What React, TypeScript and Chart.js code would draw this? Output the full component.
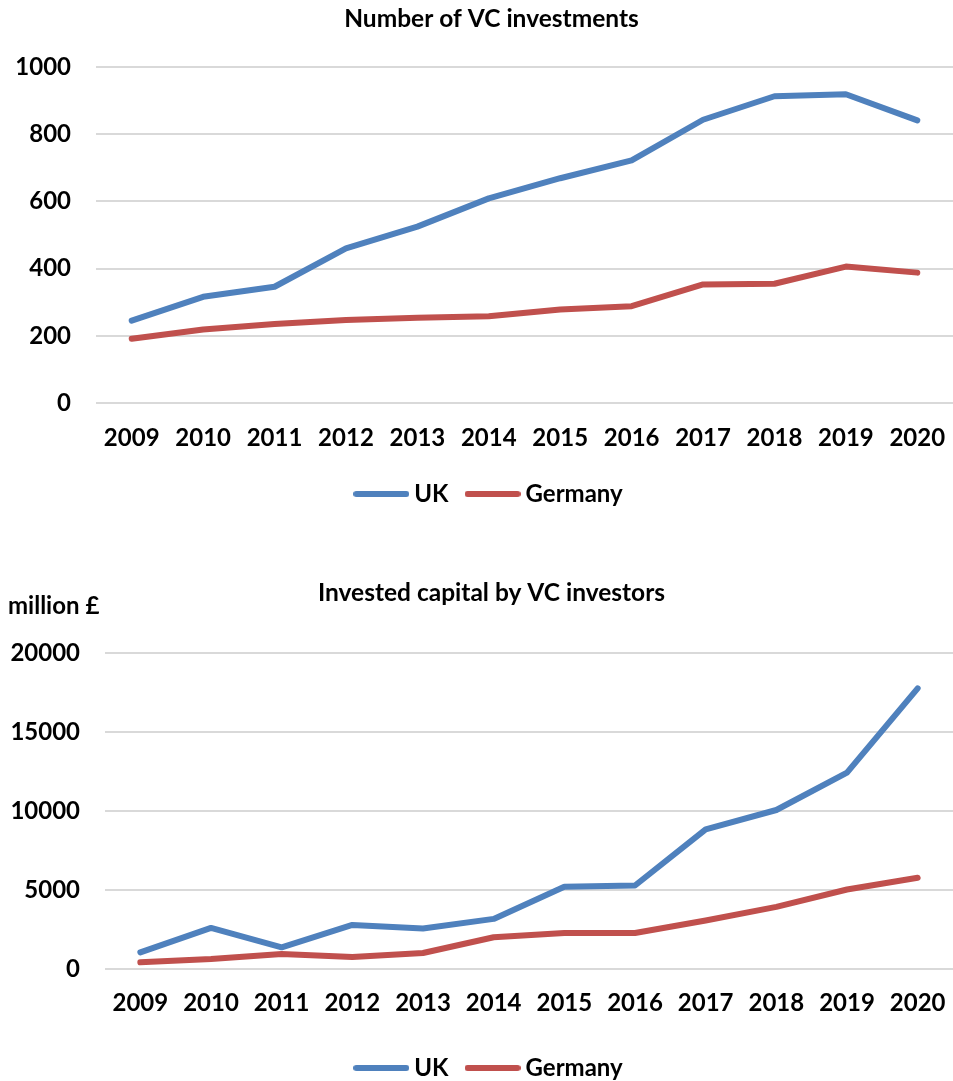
import React, { useEffect, useRef } from "react";
import { Chart, registerables } from "chart.js";

Chart.register(...registerables);

const years = ["2009", "2010", "2011", "2012", "2013", "2014", "2015", "2016", "2017", "2018", "2019", "2020"];
const ukCount = [245, 316, 346, 460, 525, 609, 669, 722, 843, 913, 919, 841];
const deCount = [191, 219, 235, 247, 254, 258, 278, 288, 353, 355, 406, 388];
const ukCapital = [1057, 2600, 1374, 2790, 2558, 3171, 5201, 5285, 8837, 10063, 12431, 17759];
const deCapital = [423, 634, 951, 761, 1015, 2008, 2283, 2283, 3066, 3932, 5032, 5772];
const seriesNames = ["UK", "Germany"];
const countTicks = { min: 0, max: 1000, step: 200 };
const capitalTicks = { min: 0, max: 20000, step: 5000 };
const title1 = "Number of VC investments";
const title2 = "Invested capital by VC investors";
const unitLabel = "million £";

const BLUE = "#4F81BD";
const RED = "#C0504D";
const FONT = "Lato";
const CANVAS_W = 983;

function legendImage(color: string) {
  const c = document.createElement("canvas");
  c.width = 56;
  c.height = 8;
  const ctx = c.getContext("2d")!;
  ctx.strokeStyle = color;
  ctx.lineWidth = 6;
  ctx.lineCap = "round";
  ctx.beginPath();
  ctx.moveTo(3, 4);
  ctx.lineTo(53, 4);
  ctx.stroke();
  return c;
}

type Cfg = {
  uk: number[];
  de: number[];
  ticks: { min: number; max: number; step: number };
  title: string;
  titlePad: { top: number; bottom: number };
  yWidth: number;
  xHeight: number;
  xPad: number;
  padBottom: number;
  unit?: string;
};

function makeChart(canvas: HTMLCanvasElement, cfg: Cfg) {
  const ds = (label: string, data: number[], color: string) => ({
    label,
    data,
    yAxisID: "y",
    borderColor: color,
    backgroundColor: color,
    borderWidth: 6,
    borderCapStyle: "round" as const,
    borderJoinStyle: "round" as const,
    pointRadius: 0,
    pointHoverRadius: 0,
    pointStyle: legendImage(color),
    tension: 0,
    fill: false,
  });
  const unitPlugin = {
    id: "unitLabel",
    afterDraw(chart: any) {
      if (!cfg.unit) return;
      const ctx = chart.ctx;
      ctx.save();
      ctx.font = `bold 24px ${FONT}`;
      ctx.fillStyle = "#000";
      ctx.textAlign = "left";
      ctx.textBaseline = "middle";
      ctx.fillText(cfg.unit, 8, 76);
      ctx.restore();
    },
  };
  return new Chart(canvas, {
    type: "line",
    data: {
      labels: years,
      datasets: [ds(seriesNames[0], cfg.uk, BLUE), ds(seriesNames[1], cfg.de, RED)],
    },
    options: {
      responsive: false,
      animation: false,
      devicePixelRatio: 1,
      events: [],
      layout: { padding: { left: 0, right: 0, top: 0, bottom: cfg.padBottom } },
      plugins: {
        title: {
          display: true,
          text: cfg.title,
          color: "#000",
          font: { family: FONT, size: 24.5, weight: "bold", lineHeight: 1.2 },
          padding: cfg.titlePad,
        },
        legend: {
          display: true,
          position: "bottom",
          labels: {
            usePointStyle: true,
            pointStyleWidth: 42,
            boxHeight: 8,
            padding: 23,
            color: "#000",
            font: { family: FONT, size: 24, weight: "bold" },
          },
        },
        tooltip: { enabled: false },
      },
      scales: {
        x: {
          offset: true,
          grid: { display: false, drawTicks: false },
          border: { display: false },
          ticks: {
            color: "#000",
            padding: cfg.xPad,
            maxRotation: 0,
            autoSkip: false,
            font: { family: FONT, size: 24, weight: "bold", lineHeight: 1.2 },
          },
          afterFit: (s: any) => {
            s.height = cfg.xHeight;
          },
        },
        y: {
          min: cfg.ticks.min,
          max: cfg.ticks.max,
          grid: { color: "#D9D9D9", lineWidth: 2, drawTicks: false },
          border: { display: false },
          ticks: {
            stepSize: cfg.ticks.step,
            color: "#000",
            padding: 25,
            font: { family: FONT, size: 24, weight: "bold" },
            callback: (v: any) => String(v),
          },
          afterFit: (s: any) => {
            s.width = cfg.yWidth;
          },
        },
        spacer: {
          type: "linear",
          position: "right",
          display: true,
          grid: { display: false, drawTicks: false },
          border: { display: false },
          ticks: { display: false },
          afterFit: (s: any) => {
            s.width = 30;
          },
        },
      },
    },
    plugins: [unitPlugin],
  } as any);
}

export default function App() {
  const ref1 = useRef<HTMLCanvasElement>(null);
  const ref2 = useRef<HTMLCanvasElement>(null);
  useEffect(() => {
    const c1 = makeChart(ref1.current!, {
      uk: ukCount,
      de: deCount,
      ticks: countTicks,
      title: title1,
      titlePad: { top: 4.3, bottom: 33.3 },
      yWidth: 96,
      xHeight: 56,
      xPad: 21,
      padBottom: 14,
    });
    const c2 = makeChart(ref2.current!, {
      uk: ukCapital,
      de: deCapital,
      ticks: capitalTicks,
      title: title2,
      titlePad: { top: 48.3, bottom: 45.3 },
      yWidth: 105,
      xHeight: 64,
      xPad: 20,
      padBottom: 0,
      unit: unitLabel,
    });
    return () => {
      c1.destroy();
      c2.destroy();
    };
  }, []);
  return (
    <div
      style={{
        position: "fixed",
        left: 0,
        top: 0,
        width: 953,
        height: 1081,
        overflow: "hidden",
        background: "#fff",
      }}
    >
      <canvas ref={ref1} width={CANVAS_W} height={530} style={{ position: "absolute", left: 0, top: 0, display: "block" }} />
      <canvas ref={ref2} width={CANVAS_W} height={560} style={{ position: "absolute", left: 0, top: 530, display: "block" }} />
    </div>
  );
}
